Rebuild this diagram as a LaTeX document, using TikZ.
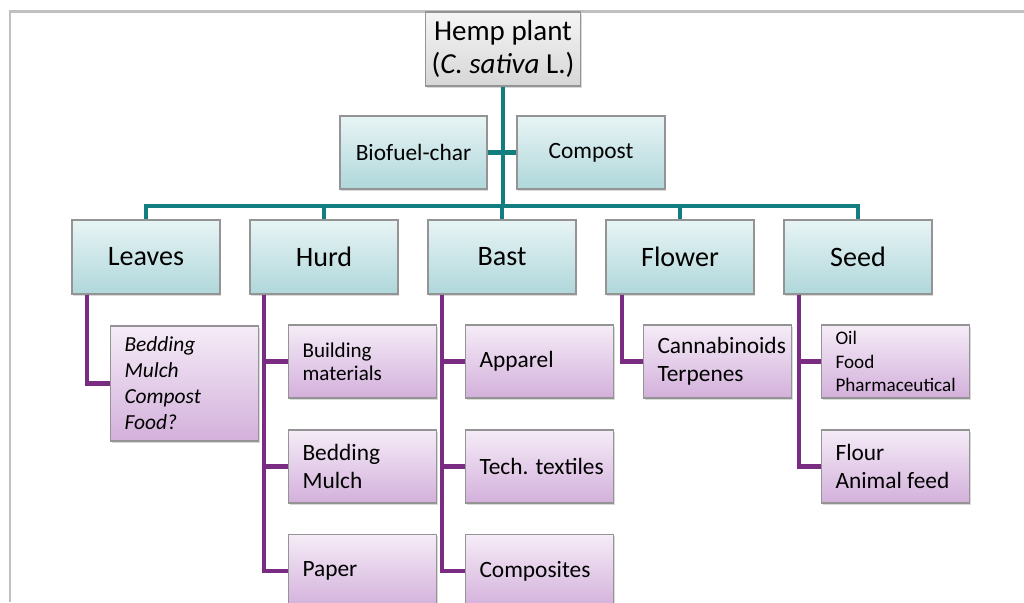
\documentclass[tikz,border=0pt]{standalone}
\usepackage{fontspec}
\setmainfont{Carlito}
\usepackage{tikz}
\usetikzlibrary{
    shadows,
    positioning
}
\definecolor{tealline}{HTML}{137E80}
\definecolor{purpline}{HTML}{792C82}
\definecolor{framegray}{HTML}{C0C0C0}
\definecolor{boxedge}{HTML}{949494}

\begin{document}
\begin{tikzpicture}[x=0.2mm,y=-0.2mm,line join=miter]
    \tikzstyle{anybox}=[draw=boxedge, line width=0.6pt, drop shadow={shadow xshift=0.8pt, shadow yshift=-1pt, opacity=0.3}]
    \tikzstyle{rootbox}=[anybox, top color=gray!8, bottom color=gray!32, minimum width=3cm, minimum height=1.48cm, align=center, font=\fontsize{16.5}{18.3}\selectfont]
    \tikzstyle{partbox}=[anybox, top color={rgb,255:red,232;green,244;blue,245}, bottom color={rgb,255:red,175;green,215;blue,218}, minimum width=2.96cm, minimum height=1.48cm, align=center, font=\fontsize{16}{19}\selectfont]
    \tikzstyle{wastebox}=[partbox, minimum width=2.94cm, minimum height=1.46cm, font=\fontsize{13.3}{16}\selectfont]
    \tikzstyle{prodbox}=[anybox, anchor=west, top color={rgb,255:red,245;green,236;blue,247}, bottom color={rgb,255:red,211;green,176;blue,219}, text width=2.4cm, inner xsep=2.8mm, minimum height=1.46cm, align=flush left, font=\fontsize{13.3}{15.8}\selectfont]
    \tikzstyle{teal}=[draw=tealline, line width=2.3pt]
    \tikzstyle{purp}=[draw=purpline, line width=2.3pt]
    \useasboundingbox (0,0) rectangle (1024,602);
    % frame
    \draw [framegray, line width=1.7pt] (10,602) -- (10,11) -- (1024,11);
    % plant and by-products
    \node [rootbox] (hemp) at (503,49) {Hemp plant\\ (\textit{C. sativa} L.)};
    \node [wastebox] (bio) at (413.5,152.5) {Biofuel-char};
    \node [wastebox, minimum width=2.96cm] (comp) at (591,152.5) {Compost};
    % plant parts
    \node [partbox] (leaves) at (146,257) {Leaves};
    \node [partbox] (hurd) at (324,257) {Hurd};
    \node [partbox] (bast) at (502,257) {Bast};
    \node [partbox] (flower) at (680,257) {Flower};
    \node [partbox] (seed) at (858,257) {Seed};
    \coordinate (bus) at (503,206);
    % products
    \node [prodbox, minimum height=2.3cm, font=\fontsize{12.2}{14.8}\selectfont\itshape] (leafuse) at (110,383.5) {Bedding\\ Mulch\\ Compost\\ Food?};
    \node [prodbox, font=\fontsize{12}{13}\selectfont] (build) at (288,361.5) {Building\\ materials};
    \node [prodbox] (bedd) at (288,466.5) {Bedding\\ Mulch};
    \node [prodbox] (paper) at (288,571) {Paper};
    \node [prodbox] (appar) at (465,361.5) {Apparel};
    \node [prodbox] (techt) at (465,466.5) {\mbox{Tech. textiles}};
    \node [prodbox] (compos) at (465,571) {Composites};
    \node [prodbox] (cannab) at (643,361.5) {Cannabinoids\\ Terpenes};
    \node [prodbox, font=\fontsize{10.9}{13.4}\selectfont] (oil) at (821,361.5) {Oil\\ Food\\ Pharmaceutical};
    \node [prodbox] (flour) at (821,466.5) {Flour\\ \mbox{Animal feed}};
    % connectors
    \draw [teal] (hemp.south) -- (bus);
    \draw [teal] (bio.east) -- (comp.west);
    \foreach \p in {leaves,hurd,bast,flower,seed}
        \draw [teal] (\p.north) |- (bus);
    \draw [purp] ([xshift=3.2mm]leaves.south west) |- (leafuse.west);
    \foreach \u in {build,bedd,paper}
        \draw [purp] ([xshift=3mm]hurd.south west) |- (\u.west);
    \foreach \u in {appar,techt,compos}
        \draw [purp] ([xshift=3mm]bast.south west) |- (\u.west);
    \draw [purp] ([xshift=3.4mm]flower.south west) |- (cannab.west);
    \foreach \u in {oil,flour}
        \draw [purp] ([xshift=3.2mm]seed.south west) |- (\u.west);
\end{tikzpicture}
\end{document}
